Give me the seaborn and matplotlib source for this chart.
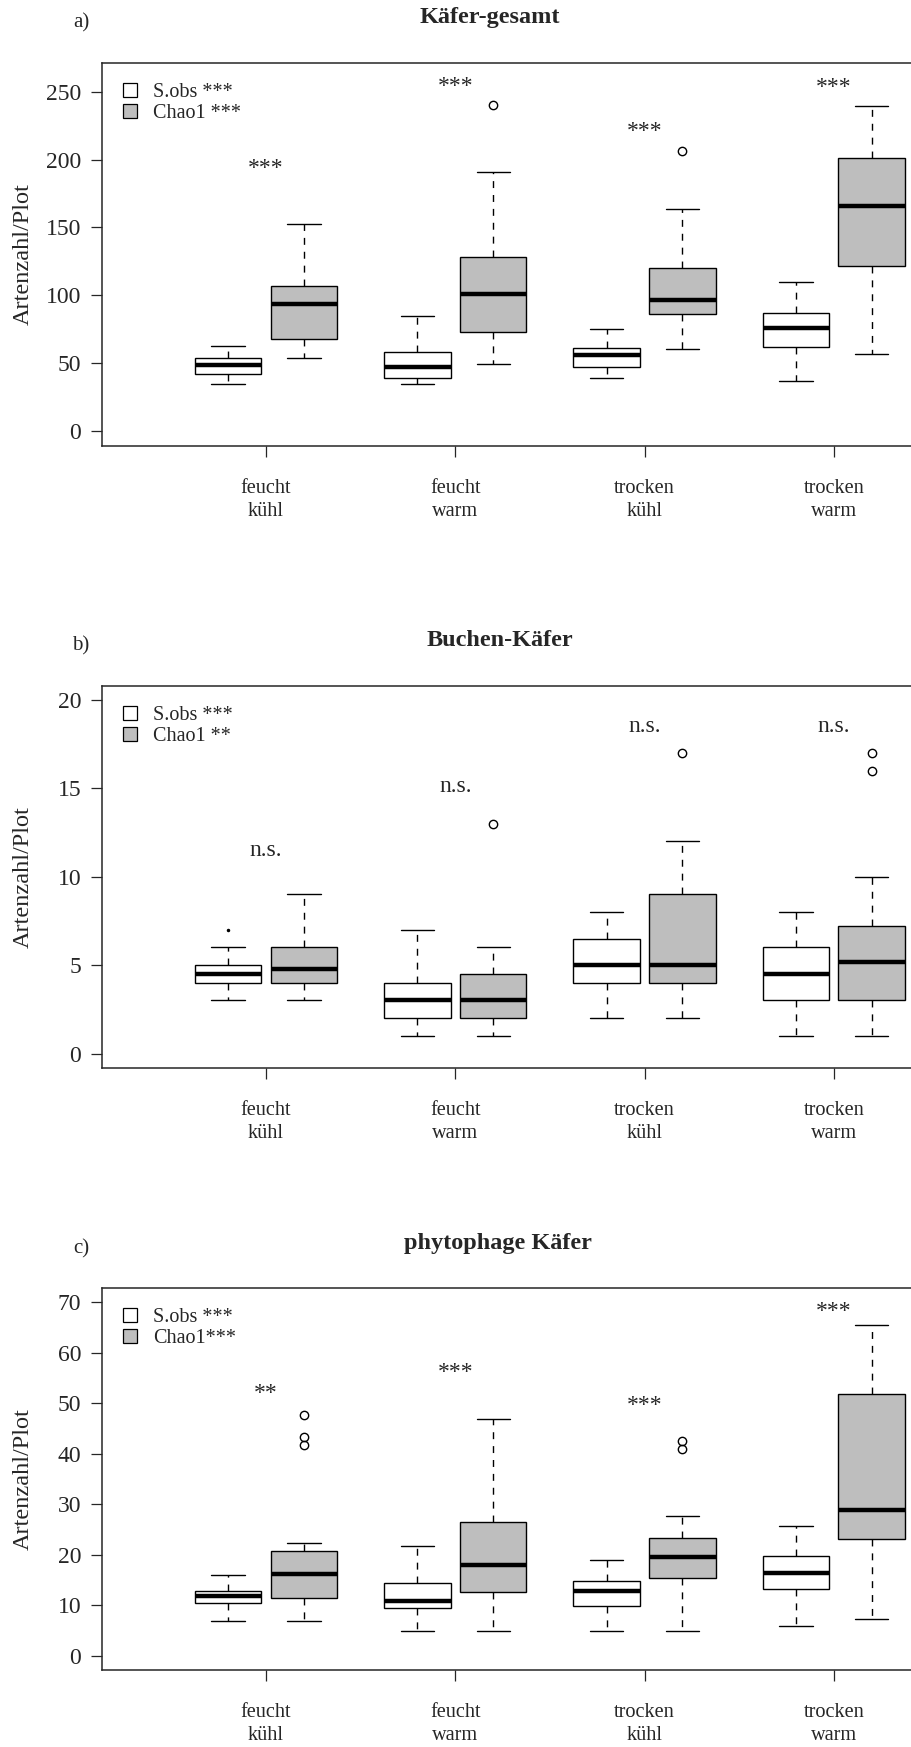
import numpy as np
import pandas as pd
import matplotlib
matplotlib.use("Agg")
import matplotlib.pyplot as plt
from matplotlib.patches import Patch
import seaborn as sns

# --- data ---------------------------------------------------------------
groups = ["feucht\nkühl", "feucht\nwarm", "trocken\nkühl", "trocken\nwarm"]
methods = ["S.obs", "Chao1"]

# five-number boxes per group: (lower whisker, Q1, median, Q3, upper whisker)
a_sobs = [(34.2, 41.6, 48.2, 53.6, 62.7), (34.2, 38.6, 47.2, 58.0, 84.8),
          (38.6, 47.2, 55.6, 61.0, 75.0), (36.9, 61.9, 75.7, 86.6, 109.9)]
a_chao = [(53.6, 67.4, 93.2, 106.9, 152.4), (49.2, 73.0, 100.6, 128.1, 191.0),
          (60.0, 85.8, 96.4, 120.0, 163.5), (56.3, 121.7, 165.7, 201.3, 239.2)]
a_sobs_out = [[], [], [], []]
a_chao_out = [[], [240.2], [206.0], []]
a_sig = ["***", "***", "***", "***"]
a_sig_y = [193.7, 254.0, 220.5, 253.2]
a_legend = ["S.obs ***", "Chao1 ***"]

b_sobs = [(3, 4, 4.5, 5, 6), (1, 2, 3, 4, 7), (2, 4, 5, 6.5, 8), (1, 3, 4.5, 6, 8)]
b_chao = [(3, 4, 4.8, 6, 9), (1, 2, 3, 4.5, 6), (2, 4, 5, 9, 12), (1, 3, 5.15, 7.2, 10)]
b_sobs_out = [[7], [], [], []]
b_chao_out = [[], [13], [17], [16, 17]]
b_sig = ["n.s.", "n.s.", "n.s.", "n.s."]
b_sig_y = [11.5, 15.1, 18.5, 18.5]
b_legend = ["S.obs ***", "Chao1 **"]

c_sobs = [(7, 10.4, 11.9, 12.85, 16), (5, 9.4, 10.9, 14.5, 21.8),
          (5, 9.9, 12.85, 14.9, 19), (5.9, 13.3, 16.4, 19.85, 25.8)]
c_chao = [(7, 11.4, 16.2, 20.8, 22.4), (5, 12.7, 17.9, 26.5, 46.9),
          (5, 15.4, 19.6, 23.35, 27.8), (7.4, 23.1, 28.8, 51.8, 65.6)]
c_sobs_out = [[], [], [], []]
c_chao_out = [[41.8, 43.4, 47.8], [], [40.9, 42.5], []]
c_sig = ["**", "***", "***", "***"]
c_sig_y = [52.0, 56.1, 49.5, 68.2]
c_legend = ["S.obs ***", "Chao1***"]

panels = [
    dict(tag="a)", title="Käfer-gesamt", title_x=490, title_y=17.5, tag_y=23,
         sobs=a_sobs, chao=a_chao, sobs_out=a_sobs_out, chao_out=a_chao_out,
         sig=a_sig, sig_y=a_sig_y, legend=a_legend,
         ylim=(-11.0, 271.0), yticks=np.arange(0, 251, 50), top=63.3, bottom=445.7),
    dict(tag="b)", title="Buchen-Käfer", title_x=500, title_y=641, tag_y=645.7,
         sobs=b_sobs, chao=b_chao, sobs_out=b_sobs_out, chao_out=b_chao_out,
         sig=b_sig, sig_y=b_sig_y, legend=b_legend,
         ylim=(-0.8, 20.8), yticks=np.arange(0, 21, 5), top=685.7, bottom=1067.7),
    dict(tag="c)", title="phytophage Käfer", title_x=498, title_y=1243.6, tag_y=1248.9,
         sobs=c_sobs, chao=c_chao, sobs_out=c_sobs_out, chao_out=c_chao_out,
         sig=c_sig, sig_y=c_sig_y, legend=c_legend,
         ylim=(-2.8, 72.8), yticks=np.arange(0, 71, 10), top=1288.3, bottom=1670.0),
]


def expand(box, outliers):
    """Build a sample whose boxplot statistics equal the given box."""
    lo, q1, med, q3, hi = box
    low = sorted(v for v in outliers if v < q1) + [lo]
    high = [hi] + sorted(v for v in outliers if v > q3)
    k = max(len(low), len(high))
    return (low + [q1] * (k + 1 - len(low)) + [med] * k + [q3] * k
            + [q3] * (k - len(high)) + high)


def panel_frame(p):
    rows = []
    for method, boxes, outs in [("S.obs", p["sobs"], p["sobs_out"]),
                                ("Chao1", p["chao"], p["chao_out"])]:
        for g, box, out in zip(groups, boxes, outs):
            for v in expand(box, out):
                rows.append({"group": g, "method": method, "value": v})
    return pd.DataFrame(rows)


# --- plotting -------------------------------------------------------------
sns.set_style("ticks")
plt.rcParams["font.family"] = ["Liberation Serif", "DejaVu Serif"]
plt.rcParams["axes.linewidth"] = 1.1

W, H = 911, 1747
fig = plt.figure(figsize=(W / 100, H / 100), dpi=100)
palette = {"S.obs": "white", "Chao1": "#bebebe"}

left_px, right_px = 102, 966
tick0_px, step_px = 266, 189.3

for p in panels:
    ax = fig.add_axes([left_px / W, 1 - p["bottom"] / H,
                       (right_px - left_px) / W, (p["bottom"] - p["top"]) / H])
    df = panel_frame(p)
    sns.boxplot(data=df, x="group", y="value", hue="method", order=groups,
                hue_order=methods, palette=palette, saturation=1,
                linecolor="black", linewidth=1.0, width=0.8, gap=0.12,
                whis=1.5, fliersize=6, legend=False, ax=ax,
                medianprops=dict(linewidth=3.2, color="black"),
                whiskerprops=dict(linestyle=(0, (5, 5))),
                flierprops=dict(marker="o", markerfacecolor="none",
                                markeredgecolor="black", markeredgewidth=1.0))

    # the lone S.obs point in panel b is drawn as a tiny dot in the source
    if p["tag"] == "b)":
        for ln in ax.lines:
            if ln.get_marker() == "o" and len(ln.get_xdata()) and np.all(np.asarray(ln.get_xdata()) < 0):
                ln.set_markersize(1.5)
                ln.set_markerfacecolor("black")

    ax.set_xlim((left_px - tick0_px) / step_px, (right_px - tick0_px) / step_px)
    ax.set_ylim(*p["ylim"])
    ax.set_yticks(p["yticks"])
    ax.set_xticks(range(len(groups)))
    ax.set_xticklabels(groups, fontsize=14.6, linespacing=1.25)
    ax.tick_params(axis="both", length=8, width=0.9)
    ax.tick_params(axis="y", pad=7, labelsize=17)
    ax.tick_params(axis="x", pad=16)
    ax.set_xlabel("")
    ax.set_ylabel("Artenzahl/Plot", fontsize=17.5)
    ax.yaxis.set_label_coords(-0.079, 0.5)

    for i, (s, y) in enumerate(zip(p["sig"], p["sig_y"])):
        ax.text(i, y, s, ha="center", va="center", fontsize=17)

    handles = [Patch(facecolor=palette[m], edgecolor="black", linewidth=0.9) for m in methods]
    ax.legend(handles, p["legend"], loc="upper left", bbox_to_anchor=(0.008, 0.985),
              frameon=False, fontsize=14.5, handlelength=0.7, handleheight=0.7,
              handletextpad=0.8, labelspacing=0.1, borderaxespad=0.3)

    fig.text(p["title_x"] / W, 1 - p["title_y"] / H, p["title"], ha="center",
             va="center", fontsize=17.5, fontweight="bold")
    fig.text(81 / W, 1 - p["tag_y"] / H, p["tag"], ha="center", va="center",
             fontsize=15)

fig.savefig("out.png", dpi=100)
